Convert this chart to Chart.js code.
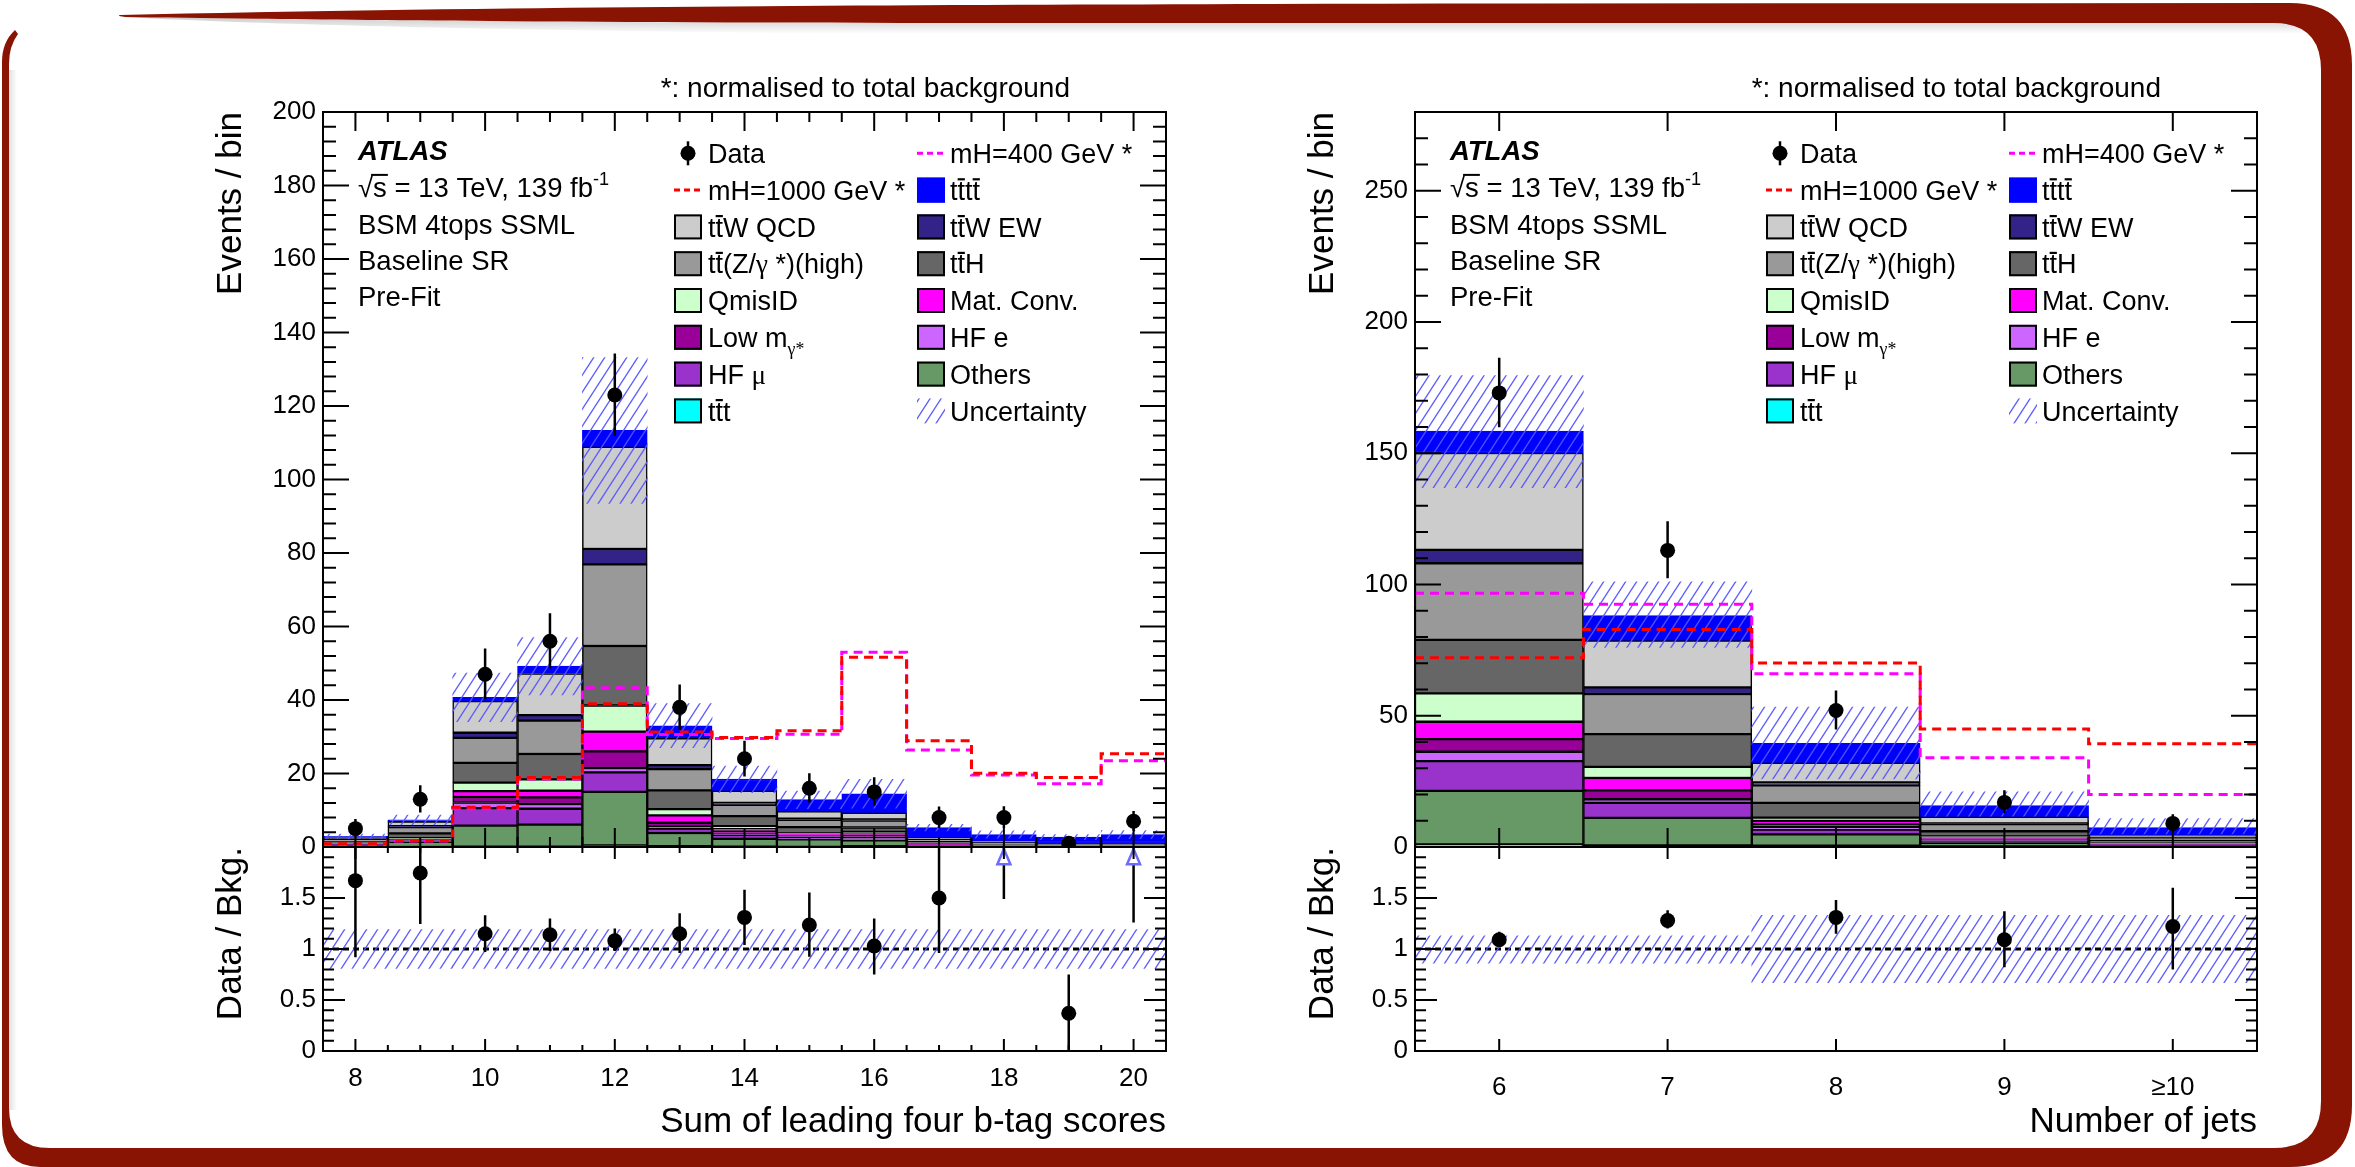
<!DOCTYPE html>
<html lang="en">
<head>
<meta charset="utf-8">
<title>BSM 4tops SSML – Baseline SR pre-fit distributions</title>
<script src="https://cdn.jsdelivr.net/npm/chart.js@4.4.1/dist/chart.umd.min.js"></script>
<style>
  html, body { margin: 0; padding: 0; background: #fff; }
  #page { position: relative; width: 2355px; height: 1167px; overflow: hidden; background: #fff; }
  #page svg, #page canvas { position: absolute; left: 0; top: 0; }
</style>
</head>
<body>
<div id="page">
  <svg width="2355" height="1167" viewBox="0 0 2355 1167" aria-hidden="true">
    <defs>
      <linearGradient id="bandShade" x1="0" y1="0" x2="0" y2="1">
        <stop offset="0" stop-color="#000" stop-opacity="0.2"/>
        <stop offset="1" stop-color="#000" stop-opacity="0"/>
      </linearGradient>
      <linearGradient id="sideShade" x1="0" y1="0" x2="1" y2="0">
        <stop offset="0" stop-color="#000" stop-opacity="0.12"/>
        <stop offset="1" stop-color="#000" stop-opacity="0"/>
      </linearGradient>
    </defs>
    <path fill="url(#bandShade)" d="M125,17 C250,19 500,22 900,23 L2310,23 L2310,34 L900,34 C500,31 250,24 125,17 Z"/>
    <rect x="9" y="70" width="8" height="1040" fill="url(#sideShade)"/>
    <path fill="#8a1403" d="M120,15 C450,7 900,4.5 1500,3.5 L2290,3 Q2352,3 2352,65 L2352,1105 Q2352,1167 2290,1167 L40,1167 Q2,1167 2,1125 L2,62 Q2,42 15,30 L18,34 Q9,46 9,64 L9,1108 Q9,1148 50,1148 L2274,1148 Q2321,1148 2321,1101 L2321,70 Q2321,23 2274,23 L900,23 C500,22 250,19 125,17 Q116,16 120,15 Z"/>
  </svg>
  <canvas id="btagMain" width="2355" height="1167"></canvas>
  <canvas id="btagRatio" width="2355" height="1167"></canvas>
  <canvas id="njetMain" width="2355" height="1167"></canvas>
  <canvas id="njetRatio" width="2355" height="1167"></canvas>
</div>
<script>
// ---------------------------------------------------------------------------
// Sum of leading four b-tag scores
// ---------------------------------------------------------------------------
const btagCentres    = [8, 9, 10, 11, 12, 13, 14, 15, 16, 17, 18, 19, 20];
const btagEdges      = [7.5, 8.5, 9.5, 10.5, 11.5, 12.5, 13.5, 14.5, 15.5, 16.5, 17.5, 18.5, 19.5, 20.5];
const btagTickValues = [8, 10, 12, 14, 16, 18, 20];
const btagTickLabels = ['8', '10', '12', '14', '16', '18', '20'];

const btagData      = [5, 13, 47, 56, 123, 38, 24, 16, 15, 8, 8, 1, 7];
const btagDataErrUp = [2.6, 3.8, 7.0, 7.6, 11.3, 6.2, 4.9, 4.1, 4.0, 3.0, 3.1, 1.5, 2.8];
const btagDataErrDn = [2.2, 3.6, 6.8, 7.4, 11.1, 6.1, 4.8, 3.9, 3.8, 2.8, 2.8, 1.0, 2.6];

const btagTtt     = [0.0, 0.0, 0.1, 0.1, 0.4, 0.2, 0.1, 0.05, 0.2, 0.05, 0.02, 0.02, 0.02];
const btagOthers  = [0.3, 1.4, 5.7, 6.0, 14.6, 3.6, 2.1, 2.05, 1.6, 0.25, 0.13, 0.08, 0.08];
const btagHFmu    = [0.2, 0.3, 4.8, 4.3, 5.3, 1.2, 1.1, 0.5, 0.4, 0.1, 0.05, 0.05, 0.05];
const btagHFe     = [0.1, 0.1, 1.5, 1.3, 1.2, 0.5, 0.4, 0.3, 0.3, 0.1, 0.05, 0.05, 0.05];
const btagLowM    = [0.1, 0.2, 1.5, 1.8, 4.5, 1.1, 0.6, 0.3, 0.6, 0.1, 0.05, 0.05, 0.05];
const btagMatConv = [0.2, 0.2, 1.6, 1.8, 5.4, 2.0, 0.7, 0.3, 0.4, 0.2, 0.1, 0.05, 0.05];
const btagQmisID  = [0.2, 0.2, 2.3, 3.1, 7.1, 1.7, 0.7, 0.2, 0.6, 0.1, 0.1, 0.1, 0.1];
const btagTtH     = [0.4, 1.3, 5.4, 6.9, 16.2, 5.1, 2.7, 1.7, 1.2, 0.5, 0.3, 0.2, 0.2];
const btagTtZ     = [0.6, 1.7, 6.8, 9.1, 22.2, 5.8, 3.1, 2.0, 1.9, 0.7, 0.4, 0.3, 0.3];
const btagTtWEW   = [0.1, 0.3, 1.4, 1.5, 4.2, 1.1, 0.5, 0.3, 0.3, 0.1, 0.1, 0.1, 0.1];
const btagTtWQCD  = [0.5, 1.2, 8.6, 11.3, 27.8, 7.3, 3.3, 2.0, 1.8, 0.3, 0.2, 0.1, 0.1];
const btagTttt    = [0.2, 0.5, 1.0, 2.0, 4.5, 3.4, 3.2, 3.2, 5.2, 2.8, 1.9, 1.6, 2.3];

const btagUncLo = [2.3, 6.1, 34.1, 41.4, 93.5, 27.0, 14.8, 10.4, 10.6, 4.4, 2.4, 2.0, 2.3];
const btagUncHi = [3.5, 8.7, 47.3, 57.0, 133.2, 39.0, 22.0, 15.2, 18.4, 6.2, 4.4, 3.4, 4.5];

const btagMH400  = [0.5, 1.6, 10.4, 18.5, 43.3, 30.6, 29.5, 30.7, 53.0, 26.4, 19.6, 17.2, 23.5];
const btagMH1000 = [0.9, 1.7, 10.8, 18.9, 39.0, 31.3, 29.8, 31.6, 51.6, 28.9, 20.1, 18.9, 25.4];

const btagRatio      = [1.67, 1.745, 1.15, 1.14, 1.08, 1.15, 1.31, 1.235, 1.03, 1.5, 2.35, 0.37, 2.06];
const btagRatioErrUp = [0.9, 1.3, 0.18, 0.16, 0.12, 0.2, 0.27, 0.32, 0.27, 0.6, 0.9, 0.38, 0.9];
const btagRatioErrDn = [0.75, 0.5, 0.18, 0.16, 0.10, 0.19, 0.27, 0.31, 0.28, 0.54, 0.86, 0.37, 0.8];
const btagRatioUncLo = [0.81, 0.81, 0.81, 0.81, 0.81, 0.81, 0.81, 0.81, 0.81, 0.81, 0.81, 0.81, 0.81];
const btagRatioUncHi = [1.19, 1.19, 1.19, 1.19, 1.19, 1.19, 1.19, 1.19, 1.19, 1.19, 1.19, 1.19, 1.19];

// ---------------------------------------------------------------------------
// Number of jets
// ---------------------------------------------------------------------------
const njetCentres    = [6, 7, 8, 9, 10];
const njetEdges      = [5.5, 6.5, 7.5, 8.5, 9.5, 10.5];
const njetTickValues = [6, 7, 8, 9, 10];
const njetTickLabels = ['6', '7', '8', '9', '\u226510'];

const njetData      = [173, 113, 52, 17, 9];
const njetDataErrUp = [13.4, 11.1, 7.6, 4.6, 3.5];
const njetDataErrDn = [13.1, 10.6, 7.2, 4.1, 3.0];

const njetTtt     = [1.0, 0.6, 0.5, 0.2, 0.1];
const njetOthers  = [20.4, 10.5, 4.3, 1.4, 0.5];
const njetHFmu    = [11.3, 5.7, 1.8, 0.6, 0.2];
const njetHFe     = [3.6, 1.4, 1.0, 0.3, 0.1];
const njetLowM    = [4.8, 3.4, 1.0, 0.5, 0.2];
const njetMatConv = [6.6, 4.7, 1.4, 0.5, 0.2];
const njetQmisID  = [10.8, 4.2, 1.2, 0.5, 0.2];
const njetTtH     = [20.4, 12.5, 5.6, 2.0, 0.9];
const njetTtZ     = [29.2, 15.3, 6.7, 2.7, 1.2];
const njetTtWEW   = [5.1, 2.5, 1.1, 0.3, 0.2];
const njetTtWQCD  = [36.9, 17.8, 7.5, 2.5, 0.7];
const njetTttt    = [8.3, 9.6, 7.4, 4.3, 2.9];

const njetUncLo = [136.9, 76.0, 25.9, 11.7, 5.0];
const njetUncHi = [179.6, 101.0, 53.3, 21.0, 10.8];

const njetMH400  = [96.7, 92.5, 66.0, 34.0, 20.0];
const njetMH1000 = [72.1, 82.9, 70.1, 45.0, 39.3];

const njetRatio      = [1.09, 1.28, 1.31, 1.09, 1.22];
const njetRatioErrUp = [0.08, 0.10, 0.17, 0.28, 0.38];
const njetRatioErrDn = [0.06, 0.08, 0.16, 0.27, 0.42];
const njetRatioUncLo = [0.86, 0.86, 0.67, 0.67, 0.67];
const njetRatioUncHi = [1.13, 1.13, 1.33, 1.33, 1.33];

// ---------------------------------------------------------------------------
// Styling
// ---------------------------------------------------------------------------
const FONT  = '"Liberation Sans", Arial, Helvetica, sans-serif';
const SERIF = '"Liberation Serif", "DejaVu Serif", serif';

// stacking order, bottom to top
const stackOrder = ['ttt', 'others', 'hfmu', 'hfe', 'lowm', 'matconv', 'qmisid', 'tth', 'ttz', 'ttwew', 'ttwqcd', 'tttt'];
const procColours = {
  ttt: '#00ffff', others: '#669966', hfmu: '#9933cc', hfe: '#cc66ff', lowm: '#990099',
  matconv: '#ff00ff', qmisid: '#ccffcc', tth: '#666666', ttz: '#999999', ttwew: '#332288',
  ttwqcd: '#cccccc', tttt: '#0000ff'
};
const btagYields = {
  ttt: btagTtt, others: btagOthers, hfmu: btagHFmu, hfe: btagHFe, lowm: btagLowM, matconv: btagMatConv,
  qmisid: btagQmisID, tth: btagTtH, ttz: btagTtZ, ttwew: btagTtWEW, ttwqcd: btagTtWQCD, tttt: btagTttt
};
const njetYields = {
  ttt: njetTtt, others: njetOthers, hfmu: njetHFmu, hfe: njetHFe, lowm: njetLowM, matconv: njetMatConv,
  qmisid: njetQmisID, tth: njetTtH, ttz: njetTtZ, ttwew: njetTtWEW, ttwqcd: njetTtWQCD, tttt: njetTttt
};

const TT = [{t: 't'}, {t: 't', bar: true}];
const legendCol1 = [
  {kind: 'data', parts: [{t: 'Data'}]},
  {kind: 'line', colour: '#ff0000', parts: [{t: 'mH=1000 GeV *'}]},
  {kind: 'box', key: 'ttwqcd', parts: [...TT, {t: 'W QCD'}]},
  {kind: 'box', key: 'ttz', parts: [...TT, {t: '(Z/'}, {t: '\u03b3', serif: true}, {t: ' *)(high)'}]},
  {kind: 'box', key: 'qmisid', parts: [{t: 'QmisID'}]},
  {kind: 'box', key: 'lowm', parts: [{t: 'Low m'}, {t: '\u03b3*', sub: true, serif: true}]},
  {kind: 'box', key: 'hfmu', parts: [{t: 'HF '}, {t: '\u03bc', serif: true}]},
  {kind: 'box', key: 'ttt', parts: [...TT, {t: 't'}]}
];
const legendCol2 = [
  {kind: 'line', colour: '#ff00ff', parts: [{t: 'mH=400 GeV *'}]},
  {kind: 'box', key: 'tttt', parts: [...TT, ...TT]},
  {kind: 'box', key: 'ttwew', parts: [...TT, {t: 'W EW'}]},
  {kind: 'box', key: 'tth', parts: [...TT, {t: 'H'}]},
  {kind: 'box', key: 'matconv', parts: [{t: 'Mat. Conv.'}]},
  {kind: 'box', key: 'hfe', parts: [{t: 'HF e'}]},
  {kind: 'box', key: 'others', parts: [{t: 'Others'}]},
  {kind: 'hatch', parts: [{t: 'Uncertainty'}]}
];
const atlasLines = [
  [{t: 'ATLAS', bold: true, italic: true}],
  [{t: '\u221a'}, {t: 's', root: true}, {t: ' = 13 TeV, 139 fb'}, {t: '-1', sup: true}],
  [{t: 'BSM 4tops SSML'}],
  [{t: 'Baseline SR'}],
  [{t: 'Pre-Fit'}]
];
const headerText = '*: normalised to total background';

Chart.defaults.font.family = FONT;
Chart.defaults.color = '#000';

// diagonal blue hatching for the uncertainty band
function makeHatch() {
  const w = 11, h = 17;
  const c = document.createElement('canvas');
  c.width = w; c.height = h;
  const g = c.getContext('2d');
  g.strokeStyle = 'rgba(85,85,255,0.95)';
  g.lineWidth = 1.3;
  g.beginPath();
  for (const s of [-w, 0, w]) { g.moveTo(s - w, 2 * h); g.lineTo(s + 2 * w, -h); }
  g.stroke();
  return g.createPattern(c, 'repeat');
}
const HATCH = makeHatch();

// text with overbars, sub- and superscripts
function richText(ctx, parts, x, y, size) {
  let cx = x;
  ctx.textAlign = 'left';
  ctx.textBaseline = 'alphabetic';
  for (const p of parts) {
    const fs = (p.sub || p.sup) ? size * 0.66 : size;
    ctx.font = `${p.italic ? 'italic ' : ''}${p.bold ? 'bold ' : ''}${fs}px ${p.serif ? SERIF : FONT}`;
    const dy = p.sub ? size * 0.30 : (p.sup ? -size * 0.45 : 0);
    ctx.fillText(p.t, cx, y + dy);
    const w = ctx.measureText(p.t).width;
    if (p.bar) ctx.fillRect(cx + w * 0.02, y - size * 0.80, w * 0.96, 2.2);
    if (p.root) ctx.fillRect(cx - 2, y - size * 0.84, w + 3, 2);
    cx += w;
  }
  return cx - x;
}

function drawLegend(ctx, a) {
  const rowY = i => a.top + 41.3 + 36.8 * i;
  [[legendCol1, 351, 385], [legendCol2, 594, 627]].forEach(([col, bx, tx]) => {
    col.forEach((e, i) => {
      const cy = rowY(i), x0 = a.left + bx, bw = 28, bh = 25;
      ctx.save();
      if (e.kind === 'data') {
        ctx.strokeStyle = '#000'; ctx.lineWidth = 2.5;
        ctx.beginPath(); ctx.moveTo(x0 + bw / 2, cy - 12); ctx.lineTo(x0 + bw / 2, cy + 12); ctx.stroke();
        ctx.fillStyle = '#000';
        ctx.beginPath(); ctx.arc(x0 + bw / 2, cy, 7.5, 0, Math.PI * 2); ctx.fill();
      } else if (e.kind === 'line') {
        ctx.strokeStyle = e.colour; ctx.lineWidth = 3; ctx.setLineDash([6, 4]);
        ctx.beginPath(); ctx.moveTo(x0, cy); ctx.lineTo(x0 + bw, cy); ctx.stroke();
      } else if (e.kind === 'box') {
        ctx.fillStyle = procColours[e.key];
        ctx.fillRect(x0, cy - bh / 2, bw, bh);
        ctx.strokeStyle = e.key === 'tttt' ? '#0000ff' : '#000';
        ctx.lineWidth = 2;
        ctx.strokeRect(x0 + 1, cy - bh / 2 + 1, bw - 2, bh - 2);
      } else if (e.kind === 'hatch') {
        ctx.fillStyle = HATCH;
        ctx.fillRect(x0, cy - bh / 2, bw, bh);
      }
      ctx.restore();
      ctx.fillStyle = '#000';
      richText(ctx, e.parts, a.left + tx, cy + 9.7, 27);
    });
  });
}

function drawAtlas(ctx, a) {
  const offs = [48, 85, 122, 158, 194];
  ctx.fillStyle = '#000';
  atlasLines.forEach((parts, i) => richText(ctx, parts, a.left + 35, a.top + offs[i], 27.5));
}

// inward tick marks on all four sides of a pad
function tickMarks(ctx, scale, a, major, minor, len, horizontal) {
  const lo = scale.min, hi = scale.max;
  const k0 = Math.ceil(lo / minor - 1e-6), k1 = Math.floor(hi / minor + 1e-6);
  for (let k = k0; k <= k1; k++) {
    const v = k * minor;
    if (Math.abs(v - lo) < 1e-6 || Math.abs(v - hi) < 1e-6) continue;
    const r = v / major;
    const l = Math.abs(r - Math.round(r)) < 1e-6 ? len[0] : len[1];
    const p = scale.getPixelForValue(v);
    if (horizontal) {
      ctx.moveTo(p, a.bottom); ctx.lineTo(p, a.bottom - l);
      ctx.moveTo(p, a.top); ctx.lineTo(p, a.top + l);
    } else {
      ctx.moveTo(a.left, p); ctx.lineTo(a.left + l, p);
      ctx.moveTo(a.right, p); ctx.lineTo(a.right - l, p);
    }
  }
}

function makeDecor(cfg) {
  return {
    id: 'padDecor',
    beforeDatasetsDraw(chart) {
      if (cfg.unity === undefined) return;
      const {ctx, chartArea: a, scales: {y}} = chart;
      const py = y.getPixelForValue(cfg.unity);
      ctx.save();
      ctx.strokeStyle = '#000'; ctx.lineWidth = 3; ctx.setLineDash([6, 4]);
      ctx.beginPath(); ctx.moveTo(a.left, py); ctx.lineTo(a.right, py); ctx.stroke();
      ctx.restore();
    },
    afterDatasetsDraw(chart) {
      const {ctx, chartArea: a, scales: {x, y}} = chart;
      ctx.save();
      ctx.beginPath(); ctx.rect(a.left, a.top, a.width, a.height); ctx.clip();
      if (cfg.err) {
        const e = cfg.err;
        ctx.strokeStyle = '#000'; ctx.lineWidth = 2.5;
        ctx.beginPath();
        e.x.forEach((xv, i) => {
          const px = x.getPixelForValue(xv);
          ctx.moveTo(px, y.getPixelForValue(e.y[i] - e.dn[i]));
          ctx.lineTo(px, y.getPixelForValue(e.y[i] + e.up[i]));
        });
        ctx.stroke();
      }
      if (cfg.arrows) {
        const ar = cfg.arrows;
        ar.x.forEach((xv, i) => {
          if (ar.y[i] <= y.max) return;
          const px = x.getPixelForValue(xv);
          const tip = y.getPixelForValue(y.max - 0.02);
          const base = y.getPixelForValue(y.max - 0.17);
          ctx.beginPath();
          ctx.moveTo(px, tip); ctx.lineTo(px - 6.5, base); ctx.lineTo(px + 6.5, base); ctx.closePath();
          ctx.fillStyle = '#fff'; ctx.fill();
          ctx.strokeStyle = '#6b6bff'; ctx.lineWidth = 2.5; ctx.stroke();
        });
      }
      ctx.restore();
    },
    afterDraw(chart) {
      const {ctx, chartArea: a, scales: {x, y}} = chart;
      ctx.save();
      ctx.strokeStyle = '#000'; ctx.lineWidth = 2;
      ctx.beginPath();
      tickMarks(ctx, x, a, cfg.xMajor, cfg.xMinor, cfg.xLen, true);
      tickMarks(ctx, y, a, cfg.yMajor, cfg.yMinor, cfg.yLen, false);
      ctx.stroke();
      ctx.strokeRect(a.left, a.top, a.width, a.height);
      ctx.fillStyle = '#000';
      if (cfg.yTitle) {
        ctx.save();
        ctx.translate(a.left - 92, a.top);
        ctx.rotate(-Math.PI / 2);
        ctx.font = `35px ${FONT}`;
        ctx.textAlign = 'right'; ctx.textBaseline = 'middle';
        ctx.fillText(cfg.yTitle, 0, 0);
        ctx.restore();
      }
      if (cfg.xTitle) {
        ctx.font = `35px ${FONT}`;
        ctx.textAlign = 'right'; ctx.textBaseline = 'alphabetic';
        ctx.fillText(cfg.xTitle, a.right, a.bottom + 81);
      }
      if (cfg.header) {
        ctx.font = `28px ${FONT}`;
        ctx.textAlign = 'right'; ctx.textBaseline = 'alphabetic';
        ctx.fillText(headerText, a.right - 96, a.top - 15);
        drawAtlas(ctx, a);
        drawLegend(ctx, a);
      }
      ctx.restore();
    }
  };
}

const PAGE_W = 2355, PAGE_H = 1167;
function padding(area, yW, xH) {
  return {left: area.left - yW, right: PAGE_W - area.right, top: area.top, bottom: PAGE_H - area.bottom - xH};
}

function buildMain(id, o) {
  const xy = vals => o.centres.map((x, i) => ({x, y: vals[i]}));
  const step = vals => o.edges.map((x, i) => ({x, y: vals[Math.min(i, vals.length - 1)]}));
  const datasets = [
    {type: 'line', data: xy(o.data), stack: 'data', showLine: false, pointRadius: 7.5, pointBackgroundColor: '#000', pointBorderWidth: 0, order: -3},
    {type: 'line', data: step(o.mh1000), stack: 's1000', stepped: true, borderColor: '#ff0000', borderWidth: 3, borderDash: [9, 6], pointRadius: 0, fill: false, order: -2},
    {type: 'line', data: step(o.mh400), stack: 's400', stepped: true, borderColor: '#ff00ff', borderWidth: 3, borderDash: [9, 6], pointRadius: 0, fill: false, order: -1},
    {type: 'bar', data: o.centres.map((x, i) => ({x, y: [o.uncLo[i], o.uncHi[i]]})), stack: 'band', backgroundColor: HATCH, borderWidth: 0, grouped: false, barPercentage: 1, categoryPercentage: 1, order: 0}
  ];
  stackOrder.forEach((key, k) => datasets.push({
    type: 'bar', data: xy(o.yields[key]), stack: 'bkg', backgroundColor: procColours[key],
    borderColor: key === 'tttt' ? '#0000ff' : '#000', borderWidth: 1.5, borderSkipped: false,
    grouped: false, barPercentage: 1, categoryPercentage: 1, order: k + 1
  }));
  return new Chart(document.getElementById(id), {
    type: 'bar',
    data: {datasets},
    options: {
      responsive: false, devicePixelRatio: 1, animation: false,
      layout: {padding: padding(o.area, 100, 0)},
      plugins: {legend: {display: false}, tooltip: {enabled: false}},
      scales: {
        x: {type: 'linear', display: false, offset: false, min: o.edges[0], max: o.edges[o.edges.length - 1],
            afterBuildTicks: s => { s.ticks = o.tickValues.map(v => ({value: v})); }},
        y: {type: 'linear', stacked: true, min: 0, max: o.yMax,
            ticks: {stepSize: o.yStep, includeBounds: false, autoSkip: false, padding: 7, font: {size: 26}, color: '#000'},
            grid: {display: false, drawTicks: false}, border: {display: false},
            afterFit: s => { s.width = 100; }}
      }
    },
    plugins: [makeDecor(o.decor)]
  });
}

function buildRatio(id, o) {
  const RMAX = 2;
  const datasets = [
    {type: 'line', data: o.centres.map((x, i) => ({x, y: o.ratio[i]})), showLine: false,
     pointRadius: c => (c.raw && c.raw.y > RMAX ? 0 : 7.5), pointBackgroundColor: '#000', pointBorderWidth: 0, order: -1},
    {type: 'bar', data: o.centres.map((x, i) => ({x, y: [o.uncLo[i], o.uncHi[i]]})), backgroundColor: HATCH,
     borderWidth: 0, grouped: false, barPercentage: 1, categoryPercentage: 1, order: 0}
  ];
  return new Chart(document.getElementById(id), {
    type: 'bar',
    data: {datasets},
    options: {
      responsive: false, devicePixelRatio: 1, animation: false,
      layout: {padding: padding(o.area, 100, 60)},
      plugins: {legend: {display: false}, tooltip: {enabled: false}},
      scales: {
        x: {type: 'linear', offset: false, min: o.edges[0], max: o.edges[o.edges.length - 1],
            afterBuildTicks: s => { s.ticks = o.tickValues.map(v => ({value: v})); },
            ticks: {autoSkip: false, maxRotation: 0, padding: o.labelPad, font: {size: 26}, color: '#000',
                    callback: v => { const i = o.tickValues.indexOf(v); return i >= 0 ? o.tickLabels[i] : ''; }},
            grid: {display: false, drawTicks: false}, border: {display: false},
            afterFit: s => { s.height = 60; }},
        y: {type: 'linear', min: 0, max: RMAX,
            ticks: {stepSize: 0.5, includeBounds: false, autoSkip: false, padding: 7, font: {size: 26}, color: '#000',
                    callback: v => (v >= RMAX ? '' : String(v))},
            grid: {display: false, drawTicks: false}, border: {display: false},
            afterFit: s => { s.width = 100; }}
      }
    },
    plugins: [makeDecor(o.decor)]
  });
}

// ---------------------------------------------------------------------------
// Left pad: b-tag score sum
// ---------------------------------------------------------------------------
buildMain('btagMain', {
  centres: btagCentres, edges: btagEdges, data: btagData, yields: btagYields, tickValues: btagTickValues,
  uncLo: btagUncLo, uncHi: btagUncHi, mh400: btagMH400, mh1000: btagMH1000,
  area: {left: 323, right: 1166, top: 112, bottom: 847}, yMax: 200, yStep: 20,
  decor: {xMajor: 2, xMinor: 0.5, xLen: [19, 10], yMajor: 20, yMinor: 4, yLen: [26, 13],
          yTitle: 'Events / bin', header: true,
          err: {x: btagCentres, y: btagData, up: btagDataErrUp, dn: btagDataErrDn}}
});
buildRatio('btagRatio', {
  centres: btagCentres, edges: btagEdges, ratio: btagRatio, uncLo: btagRatioUncLo, uncHi: btagRatioUncHi,
  tickValues: btagTickValues, tickLabels: btagTickLabels,
  area: {left: 323, right: 1166, top: 847, bottom: 1051}, labelPad: 12,
  decor: {xMajor: 2, xMinor: 0.5, xLen: [12, 6], yMajor: 0.5, yMinor: 0.1, yLen: [22, 11],
          yTitle: 'Data / Bkg.', xTitle: 'Sum of leading four b-tag scores', unity: 1,
          err: {x: btagCentres, y: btagRatio, up: btagRatioErrUp, dn: btagRatioErrDn},
          arrows: {x: btagCentres, y: btagRatio}}
});

// ---------------------------------------------------------------------------
// Right pad: jet multiplicity
// ---------------------------------------------------------------------------
buildMain('njetMain', {
  centres: njetCentres, edges: njetEdges, data: njetData, yields: njetYields, tickValues: njetTickValues,
  uncLo: njetUncLo, uncHi: njetUncHi, mh400: njetMH400, mh1000: njetMH1000,
  area: {left: 1415, right: 2257, top: 112, bottom: 847}, yMax: 280, yStep: 50,
  decor: {xMajor: 1, xMinor: 1, xLen: [19, 19], yMajor: 50, yMinor: 10, yLen: [26, 13],
          yTitle: 'Events / bin', header: true,
          err: {x: njetCentres, y: njetData, up: njetDataErrUp, dn: njetDataErrDn}}
});
buildRatio('njetRatio', {
  centres: njetCentres, edges: njetEdges, ratio: njetRatio, uncLo: njetRatioUncLo, uncHi: njetRatioUncHi,
  tickValues: njetTickValues, tickLabels: njetTickLabels,
  area: {left: 1415, right: 2257, top: 847, bottom: 1051}, labelPad: 21,
  decor: {xMajor: 1, xMinor: 1, xLen: [12, 12], yMajor: 0.5, yMinor: 0.1, yLen: [22, 11],
          yTitle: 'Data / Bkg.', xTitle: 'Number of jets', unity: 1,
          err: {x: njetCentres, y: njetRatio, up: njetRatioErrUp, dn: njetRatioErrDn},
          arrows: {x: njetCentres, y: njetRatio}}
});
</script>
</body>
</html>
